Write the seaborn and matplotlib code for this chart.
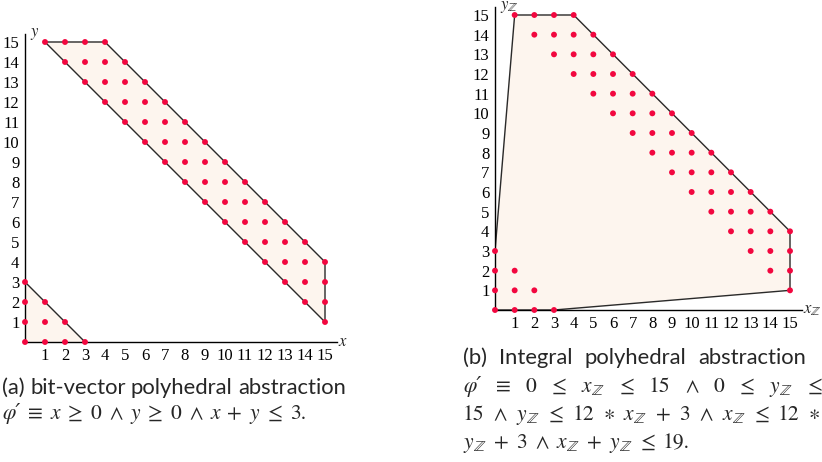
import matplotlib
matplotlib.use("Agg")
import matplotlib.pyplot as plt
import pandas as pd
import seaborn as sns

# lattice points satisfying the constraint (same set in both panels)
pts_x = [0, 1, 2, 3, 0, 1, 2, 0, 1, 0,
         1, 2, 3, 4,
         2, 3, 4, 5,
         3, 4, 5, 6,
         4, 5, 6, 7,
         5, 6, 7, 8,
         6, 7, 8, 9,
         7, 8, 9, 10,
         8, 9, 10, 11,
         9, 10, 11, 12,
         10, 11, 12, 13,
         11, 12, 13, 14,
         12, 13, 14, 15,
         13, 14, 15,
         14, 15,
         15]
pts_y = [0, 0, 0, 0, 1, 1, 1, 2, 2, 3,
         15, 15, 15, 15,
         14, 14, 14, 14,
         13, 13, 13, 13,
         12, 12, 12, 12,
         11, 11, 11, 11,
         10, 10, 10, 10,
         9, 9, 9, 9,
         8, 8, 8, 8,
         7, 7, 7, 7,
         6, 6, 6, 6,
         5, 5, 5, 5,
         4, 4, 4, 4,
         3, 3, 3,
         2, 2,
         1]

# polygons
tri_a_x = [0, 3, 0]
tri_a_y = [0, 0, 3]
band_a_x = [1, 4, 15, 15]
band_a_y = [15, 15, 4, 1]
poly_b_x = [0, 3, 15, 15, 4, 1, 0]
poly_b_y = [0, 0, 1, 4, 15, 15, 3]

ticks = list(range(1, 16))

df = pd.DataFrame({"x": pts_x, "y": pts_y})

sns.set_style("white")
plt.rcParams["font.family"] = ["Liberation Serif", "DejaVu Serif"]
plt.rcParams["mathtext.fontset"] = "stix"

W, H = 822, 462
fig = plt.figure(figsize=(W / 100, H / 100), dpi=100)

FILL = "#fdf5ee"
EDGE = "#2a2a2a"
DOT = "#f2073f"


def px_axes(x0, x15, y0, y15):
    # place an axes so that data 0..15 lands on the given pixel positions
    ux = (x15 - x0) / 15
    uy = (y0 - y15) / 15
    xmax, ymax = 15.6, 15.4
    ax = fig.add_axes([x0 / W, (H - y0) / H, xmax * ux / W, ymax * uy / H])
    ax.set_xlim(0, xmax)
    ax.set_ylim(0, ymax)
    return ax


def style_axes(ax, xlabel, ylabel):
    for s in ["top", "right"]:
        ax.spines[s].set_visible(False)
    for s in ["left", "bottom"]:
        ax.spines[s].set_color("black")
        ax.spines[s].set_linewidth(1.0)
    ax.set_xticks(ticks)
    ax.set_yticks(ticks)
    ax.tick_params(direction="inout", length=5, width=0.8, colors="black",
                   labelsize=12, pad=1.5)
    ax.set_xlabel("")
    ax.set_ylabel("")
    ax.text(1.003, 0.0, xlabel, transform=ax.transAxes, fontsize=12,
            ha="left", va="center")
    ax.text(0.015, 1.0, ylabel, transform=ax.transAxes, fontsize=12,
            ha="left", va="center")
    ax.grid(False)


# (a) bit-vector polyhedral abstraction
ax1 = px_axes(25, 325, 342, 42)
ax1.fill(tri_a_x, tri_a_y, color=FILL, zorder=1)
ax1.fill(band_a_x, band_a_y, color=FILL, zorder=1)
ax1.plot(tri_a_x[1:], tri_a_y[1:], color=EDGE, lw=1, zorder=2)
ax1.plot(band_a_x + band_a_x[:1], band_a_y + band_a_y[:1], color=EDGE, lw=1, zorder=2)
sns.scatterplot(data=df, x="x", y="y", ax=ax1, color=DOT, s=18,
                edgecolor="none", zorder=4, clip_on=False)
style_axes(ax1, "$x$", "$y$")

# (b) integral polyhedral abstraction
ax2 = px_axes(495, 790, 310, 15)
ax2.fill(poly_b_x, poly_b_y, color=FILL, zorder=1)
ax2.plot(poly_b_x + poly_b_x[:1], poly_b_y + poly_b_y[:1], color=EDGE, lw=1, zorder=2)
sns.scatterplot(data=df, x="x", y="y", ax=ax2, color=DOT, s=18,
                edgecolor="none", zorder=4, clip_on=False)
style_axes(ax2, r"$x_\mathbb{Z}$", r"$y_\mathbb{Z}$")

# captions
FS = 15.5
SANS = dict(fontsize=15.8, family=["Lato", "DejaVu Sans"], va="baseline", ha="left")
UP = dict(fontsize=FS, family=["STIXGeneral", "DejaVu Serif"], va="baseline", ha="left")
IT = dict(UP, style="italic")
MATH = dict(fontsize=FS, va="baseline", ha="left")


def put(x, y, s, **kw):
    return fig.text(x / W, 1 - y / H, s, **kw)


def justify(tokens, x0, x1, y):
    # tokens: list of (string, style) laid out with even gaps between x0 and x1
    texts = [put(x0, y, s, **kw) for s, kw in tokens]
    fig.canvas.draw()
    r = fig.canvas.get_renderer()
    widths = [t.get_window_extent(r).width for t in texts]
    gap = ((x1 - x0) - sum(widths)) / (len(tokens) - 1)
    pos = x0
    for t, w in zip(texts, widths):
        t.set_x(pos / W)
        pos += w + gap


def o(s):
    return (s, UP)


def v(s):
    return (s, IT)


XZ = (r"$x_\mathbb{Z}$", MATH)
YZ = (r"$y_\mathbb{Z}$", MATH)
PHI = ("φ′", IT)

justify([(w, SANS) for w in "(a) bit-vector polyhedral abstraction".split()],
        2, 346, 394)
justify([PHI, o("≡"), v("x"), o("≥"), o("0"), o("∧"), v("y"), o("≥"), o("0"),
         o("∧"), v("x"), o("+"), v("y"), o("≤"), o("3.")], 2, 306, 419)

justify([(w, SANS) for w in "(b) Integral polyhedral abstraction".split()],
        463, 806, 364)
justify([PHI, o("≡"), o("0"), o("≤"), XZ, o("≤"), o("15"), o("∧"), o("0"),
         o("≤"), YZ, o("≤")], 463, 822, 392)
justify([o("15"), o("∧"), YZ, o("≤"), o("12"), o("∗"), XZ, o("+"), o("3"),
         o("∧"), XZ, o("≤"), o("12"), o("∗")], 463, 820, 420)
justify([YZ, o("+"), o("3"), o("∧"), XZ, o("+"), YZ, o("≤"), o("19.")],
        463, 690, 448)

fig.savefig("out.png", dpi=100)
